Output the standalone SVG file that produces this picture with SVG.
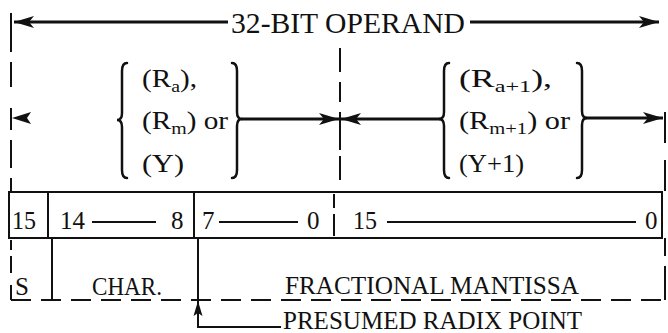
<svg xmlns="http://www.w3.org/2000/svg" width="668" height="333" viewBox="0 0 668 333">
<style>
.tx{font-family:Liberation Serif, DejaVu Serif, Noto Serif, Times New Roman, serif;fill:#111}
.t{font-size:25px}
.b{font-size:25px}
.s{font-size:17px}
.ln{stroke:#111;stroke-width:2;fill:none}
.th{stroke:#111;stroke-width:2.8;fill:none}
.br{stroke:#111;stroke-width:2.5;fill:none;stroke-linecap:round}
.dv{stroke:#111;stroke-width:2;fill:none;stroke-dasharray:20 10}
</style>
<defs>
<marker id="ah" markerUnits="userSpaceOnUse" markerWidth="22" markerHeight="14" refX="20" refY="7" orient="auto">
<path d="M0,1 L20,7 L0,13 L5,7 Z" fill="#111"/>
</marker>
</defs>
<rect width="668" height="333" fill="#fff"/>

<g id="title">
<text class="tx" x="231" y="33" font-size="29" textLength="234" lengthAdjust="spacingAndGlyphs">32-BIT OPERAND</text>
</g>

<g id="connectors">
<line class="th" x1="228" y1="22" x2="14" y2="22" marker-end="url(#ah)"/>
<line class="th" x1="470" y1="22" x2="659" y2="22" marker-end="url(#ah)"/>
<path class="ln" d="M11,13 V52 M11,62 V87 M11,108 V130 M11,140 V168 M11,178 V191"/>
<path d="M31,112 L12,118 L31,124 L27,118 Z" fill="#111"/>
<line class="th" x1="241" y1="119" x2="339" y2="119" marker-end="url(#ah)"/>
<line class="th" x1="442" y1="119" x2="341" y2="119" marker-end="url(#ah)"/>
<line class="th" x1="585" y1="118" x2="663" y2="118" marker-end="url(#ah)"/>
<path class="ln" d="M340,48 V72 M340,82 V102 M340,112 V150 M340,156 V180"/>
<path class="ln" d="M665,112 V143 M665,160 V191"/>
<path class="ln" d="M334,194 V208 M334,214 V236"/>
<path class="ln" d="M11,240 V250 M11,256 V273 M11,285 V300"/>
<line class="ln" x1="52" y1="238" x2="52" y2="300"/>
<path class="ln" d="M665,238 V256 M665,266 V300"/>
<line class="dv" x1="11" y1="300" x2="665" y2="300"/>
<path class="ln" d="M198,238 V327 H281"/>
<path d="M198,301 L193.5,316 L198,313 L202.5,316 Z" fill="#111"/>
</g>

<g id="left-group">
<path class="br" d="M127,63 Q122,63 122,71 L122,113 Q122,120 117,120 Q122,120 122,127 L122,170 Q122,178 127,178"/>
<path class="br" d="M232,63 Q237,63 237,71 L237,112 Q237,119 242,119 Q237,119 237,126 L237,170 Q237,178 232,178"/>
<text class="tx t" x="142" y="87" textLength="55" lengthAdjust="spacingAndGlyphs">(R<tspan class="s" dy="5">a</tspan><tspan dy="-5">),</tspan></text>
<text class="tx t" x="142" y="129" textLength="86" lengthAdjust="spacingAndGlyphs">(R<tspan class="s" dy="5">m</tspan><tspan dy="-5">) or</tspan></text>
<text class="tx t" x="142" y="172" textLength="42" lengthAdjust="spacingAndGlyphs">(Y)</text>
</g>

<g id="right-group">
<path class="br" d="M449,63 Q444,63 444,71 L444,112 Q444,119 439,119 Q444,119 444,126 L444,170 Q444,178 449,178"/>
<path class="br" d="M577,63 Q582,63 582,71 L582,111 Q582,118 587,118 Q582,118 582,125 L582,170 Q582,178 577,178"/>
<text class="tx t" x="459" y="87" textLength="93" lengthAdjust="spacingAndGlyphs">(R<tspan class="s" dy="5">a+1</tspan><tspan dy="-5">),</tspan></text>
<text class="tx t" x="459" y="129" textLength="111" lengthAdjust="spacingAndGlyphs">(R<tspan class="s" dy="5">m+1</tspan><tspan dy="-5">) or</tspan></text>
<text class="tx t" x="459" y="172" textLength="65" lengthAdjust="spacingAndGlyphs">(Y+1)</text>
</g>

<g id="register">
<rect class="ln" x="9" y="192" width="653" height="46"/>
<line class="ln" x1="48" y1="192" x2="48" y2="238"/>
<line class="ln" x1="194" y1="192" x2="194" y2="238"/>
<text class="tx b" x="12" y="229" textLength="24" lengthAdjust="spacingAndGlyphs">15</text>
<text class="tx b" x="60" y="229" textLength="25" lengthAdjust="spacingAndGlyphs">14</text>
<line class="ln" x1="92" y1="222" x2="156" y2="222"/>
<text class="tx b" x="171" y="229">8</text>
<text class="tx b" x="202" y="229">7</text>
<line class="ln" x1="219" y1="222" x2="298" y2="222"/>
<text class="tx b" x="307" y="229">0</text>
<text class="tx b" x="353" y="229" textLength="24" lengthAdjust="spacingAndGlyphs">15</text>
<line class="ln" x1="387" y1="222" x2="636" y2="222"/>
<text class="tx b" x="645" y="229">0</text>
</g>

<g id="fields">
<text class="tx b" x="15" y="295">S</text>
<text class="tx b" x="92" y="295" textLength="70" lengthAdjust="spacingAndGlyphs">CHAR.</text>
<text class="tx" x="285" y="294" font-size="25" textLength="294" lengthAdjust="spacingAndGlyphs">FRACTIONAL MANTISSA</text>
</g>

<g id="radix-label">
<text class="tx" x="283" y="329" font-size="25" textLength="299" lengthAdjust="spacingAndGlyphs">PRESUMED RADIX POINT</text>
</g>
</svg>
